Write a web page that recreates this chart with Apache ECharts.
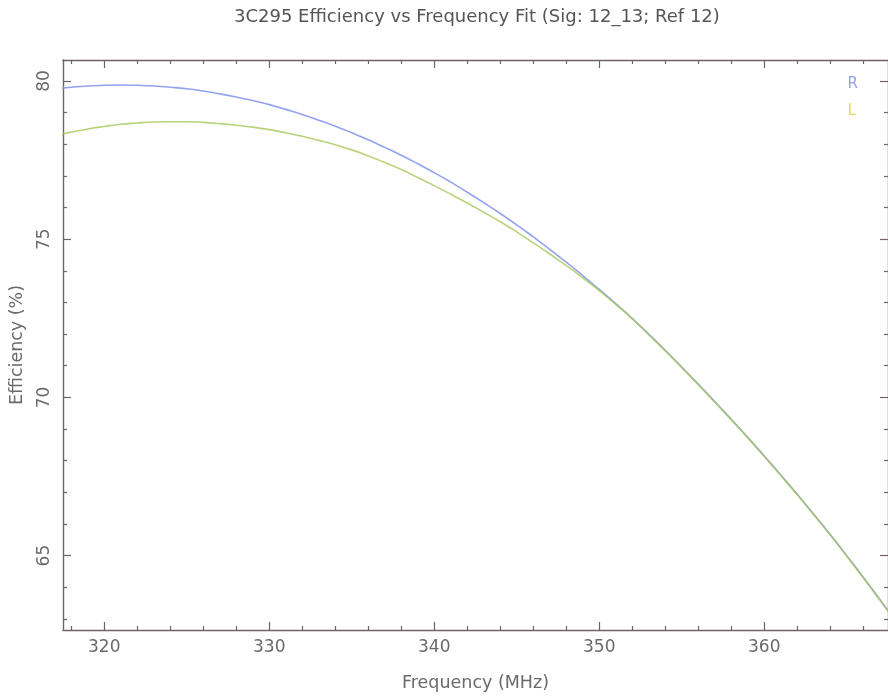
<!DOCTYPE html>
<html>
<head>
<meta charset="utf-8">
<title>3C295 Efficiency vs Frequency Fit</title>
<script src="https://cdn.jsdelivr.net/npm/echarts@6/dist/echarts.min.js"></script>
<style>
  html, body { margin: 0; padding: 0; background: #ffffff; }
  #chart { width: 888px; height: 697px; }
</style>
</head>
<body>
<div id="chart"></div>
<script>
// Fitted efficiency curves, sampled every 1 MHz
const frequencies = [
  317, 318, 319, 320, 321, 322, 323, 324, 325, 326,
  327, 328, 329, 330, 331, 332, 333, 334, 335, 336,
  337, 338, 339, 340, 341, 342, 343, 344, 345, 346,
  347, 348, 349, 350, 351, 352, 353, 354, 355, 356,
  357, 358, 359, 360, 361, 362, 363, 364, 365, 366,
  367, 368
];
const effR = [
  79.75, 79.80, 79.84, 79.86, 79.87, 79.86, 79.84, 79.80, 79.75, 79.68,
  79.59, 79.49, 79.38, 79.25, 79.10, 78.94, 78.76, 78.57, 78.36, 78.14,
  77.90, 77.65, 77.38, 77.10, 76.80, 76.48, 76.15, 75.81, 75.45, 75.07,
  74.68, 74.27, 73.85, 73.41, 72.96, 72.49, 72.00, 71.49, 70.96, 70.42,
  69.87, 69.31, 68.74, 68.15, 67.55, 66.94, 66.31, 65.67, 65.00, 64.32,
  63.62, 62.91
];
const effL = [
  78.28, 78.38, 78.48, 78.56, 78.63, 78.67, 78.70, 78.71, 78.71, 78.69,
  78.65, 78.60, 78.54, 78.46, 78.36, 78.25, 78.12, 77.98, 77.82, 77.63,
  77.42, 77.20, 76.95, 76.69, 76.42, 76.14, 75.85, 75.55, 75.23, 74.88,
  74.53, 74.16, 73.78, 73.37, 72.94, 72.49, 71.98, 71.47, 70.94, 70.40,
  69.85, 69.29, 68.72, 68.13, 67.53, 66.92, 66.29, 65.65, 64.98, 64.30,
  63.60, 62.89
];

// Axis ranges and tick positions
const xRange = [317.5, 367.5];
const yRange = [62.65, 80.66];
const xMajorTicks = [320, 330, 340, 350, 360];
const xMinorTicks = [318, 322, 324, 326, 328, 332, 334, 336, 338, 342, 344, 346, 348,
                     352, 354, 356, 358, 362, 364, 366];
const yMajorTicks = [65, 70, 75, 80];
const yMinorTicks = [63, 64, 66, 67, 68, 69, 71, 72, 73, 74, 76, 77, 78, 79];

const frameColor = '#6e6363';
const textColor = '#6a6a6a';
const fontFamily = 'DejaVu Sans';
const colorR = '#94a2f0';
const colorL = '#dede50';

function pairs(xs, ys) { return xs.map((x, i) => [x, ys[i]]); }

function xAxisDef(pos, ticks, len, showLine, labels) {
  return {
    type: 'value', position: pos, min: xRange[0], max: xRange[1],
    axisLine: { show: showLine, onZero: false, lineStyle: { color: frameColor, width: 1.4 } },
    axisTick: { show: true, inside: true, length: len, customValues: ticks,
                lineStyle: { color: frameColor, width: 1.2 } },
    axisLabel: labels ? { show: true, customValues: ticks, color: textColor, fontSize: 17,
                          fontFamily: fontFamily, margin: 9 } : { show: false },
    splitLine: { show: false }
  };
}
function yAxisDef(pos, ticks, len, showLine, labels) {
  return {
    type: 'value', position: pos, min: yRange[0], max: yRange[1],
    axisLine: { show: showLine, onZero: false, lineStyle: { color: frameColor, width: 1.4 } },
    axisTick: { show: true, inside: true, length: len, customValues: ticks,
                lineStyle: { color: frameColor, width: 1.2 } },
    axisLabel: labels ? { show: true, customValues: ticks, color: textColor, fontSize: 17,
                          fontFamily: fontFamily, rotate: 90, margin: 10 } : { show: false },
    splitLine: { show: false }
  };
}

const xAxes = [
  xAxisDef('bottom', xMajorTicks, 8, true, true),
  xAxisDef('bottom', xMinorTicks, 4, false, false),
  xAxisDef('top', xMajorTicks, 8, true, false),
  xAxisDef('top', xMinorTicks, 4, false, false)
];
xAxes[0].name = 'Frequency (MHz)';
xAxes[0].nameLocation = 'middle';
xAxes[0].nameGap = 44;
xAxes[0].nameTextStyle = { color: textColor, fontSize: 17.5, fontFamily: fontFamily };

const yAxes = [
  yAxisDef('left', yMajorTicks, 8, true, true),
  yAxisDef('left', yMinorTicks, 4, false, false),
  yAxisDef('right', yMajorTicks, 8, true, false),
  yAxisDef('right', yMinorTicks, 4, false, false)
];
yAxes[0].name = 'Efficiency (%)';
yAxes[0].nameLocation = 'middle';
yAxes[0].nameGap = 37;
yAxes[0].nameRotate = 90;
yAxes[0].nameTextStyle = { color: textColor, fontSize: 17.5, fontFamily: fontFamily };

const chart = echarts.init(document.getElementById('chart'), null, { renderer: 'canvas' });
chart.setOption({
  backgroundColor: '#ffffff',
  animation: false,
  title: {
    text: '3C295 Efficiency vs Frequency Fit (Sig: 12_13; Ref 12)',
    left: 229, top: 3,
    textStyle: { color: '#555555', fontSize: 18, fontWeight: 'normal', fontFamily: fontFamily }
  },
  legend: {
    orient: 'vertical', right: 25, top: 72, itemGap: 12,
    icon: 'none', itemWidth: 0, itemHeight: 0,
    textStyle: { fontSize: 15, fontFamily: fontFamily },
    data: [
      { name: 'R', textStyle: { color: colorR } },
      { name: 'L', textStyle: { color: colorL } }
    ]
  },
  grid: { left: 62, right: -5, top: 60, bottom: 65 },
  xAxis: xAxes,
  yAxis: yAxes,
  series: [
    { name: 'R', type: 'line', xAxisIndex: 0, yAxisIndex: 0, showSymbol: false, smooth: true,
      data: pairs(frequencies, effR),
      lineStyle: { color: colorR, width: 1.6 }, itemStyle: { color: colorR } },
    { name: 'L', type: 'line', xAxisIndex: 0, yAxisIndex: 0, showSymbol: false, smooth: true,
      data: pairs(frequencies, effL),
      lineStyle: { color: '#a8c85a', width: 1.6, opacity: 0.8 }, itemStyle: { color: colorL } }
  ]
});
</script>
</body>
</html>
